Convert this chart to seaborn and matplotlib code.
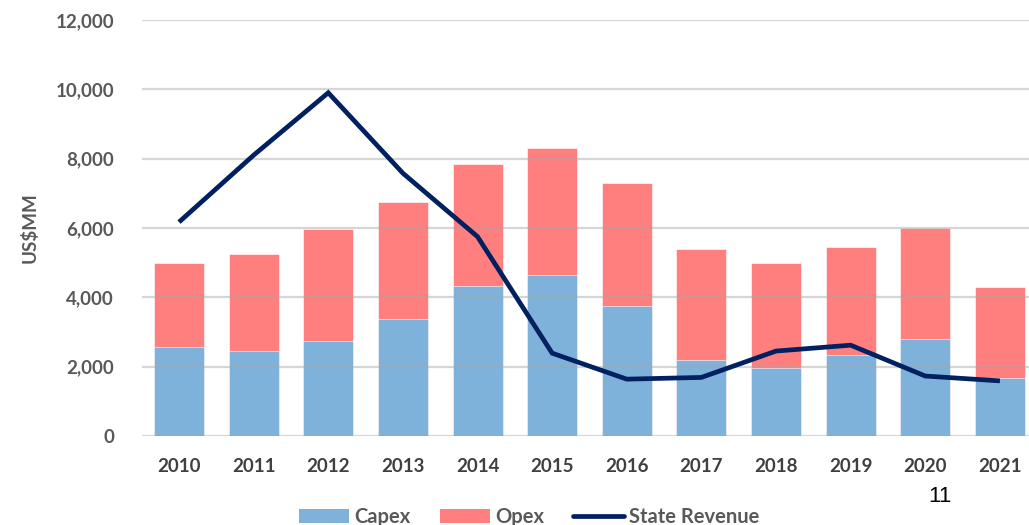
import numpy as np
import pandas as pd
import matplotlib
matplotlib.use("Agg")
import matplotlib.pyplot as plt
import seaborn as sns
from matplotlib.patches import Patch
from matplotlib.lines import Line2D

years = ["2010", "2011", "2012", "2013", "2014", "2015", "2016", "2017", "2018", "2019", "2020", "2021"]
capex = [2570, 2450, 2740, 3380, 4330, 4640, 3760, 2190, 1950, 2340, 2790, 1670]
opex = [2430, 2800, 3230, 3370, 3520, 3670, 3540, 3200, 3040, 3110, 3200, 2620]
state_revenue = [6170, 8100, 9900, 7580, 5750, 2390, 1640, 1690, 2450, 2620, 1730, 1590]
yticks = [0, 2000, 4000, 6000, 8000, 10000, 12000]

sns.set_theme(style="white")
plt.rcParams['font.family'] = ['Lato', 'DejaVu Sans']

df = pd.DataFrame({"year": years, "capex": capex, "opex": opex, "rev": state_revenue})
df["total"] = df["capex"] + df["opex"]

fig = plt.figure(figsize=(10.29, 5.25), dpi=100)
ax = fig.add_axes([0.1377, 0.1695, 0.8623, 0.7925])

blue = "#7FB2DA"
red = "#FF7F7F"
navy = "#002060"
fs = 13.5

sns.barplot(data=df, x="year", y="total", color=red, saturation=1, width=0.67,
            edgecolor="white", linewidth=0.4, ax=ax, zorder=1)
sns.barplot(data=df, x="year", y="capex", color=blue, saturation=1, width=0.67,
            edgecolor="white", linewidth=0.4, ax=ax, zorder=1)
sns.lineplot(x=np.arange(len(years)), y=df["rev"], color=navy, linewidth=3.4,
             ax=ax, zorder=4, solid_capstyle="butt", solid_joinstyle="miter")

ax.set_ylim(0, 12000)
ax.set_xlim(-0.5, 11.39)
ax.set_yticks(yticks)
ax.set_yticklabels([f"{v:,}" for v in yticks])
ax.yaxis.grid(True, color="#A6A6A6", alpha=0.45, linewidth=1.6, zorder=3)
ax.set_axisbelow(False)
for s in ax.spines.values():
    s.set_visible(False)
ax.tick_params(axis="y", length=0, pad=20, labelsize=fs, labelcolor="#595959")
ax.tick_params(axis="x", length=0, pad=16, labelsize=fs, labelcolor="#404040")
for t in ax.get_yticklabels() + ax.get_xticklabels():
    t.set_fontweight("bold")
ax.set_xlabel("")
ax.set_ylabel("US$MM", fontsize=fs, fontweight="bold", color="#595959", labelpad=12)

handles = [Patch(facecolor=blue, edgecolor="none"),
           Patch(facecolor=red, edgecolor="none"),
           Line2D([0], [0], color=navy, linewidth=3.4)]
leg = fig.legend(handles, ["Capex", "Opex", "State Revenue"], loc="center",
                 bbox_to_anchor=(529 / 1029, 1 - 517 / 525), ncol=3, frameon=False,
                 handlelength=2.5, handleheight=0.75, handletextpad=0.25, columnspacing=1.45,
                 prop={"size": 14.5, "weight": "bold"})
for t in leg.get_texts():
    t.set_color("#595959")

fig.text(940 / 1029, 1 - 497 / 525, "11", fontsize=16, color="black",
         ha="center", va="center", family=["Liberation Sans", "DejaVu Sans"])

fig.savefig("out.png", dpi=100)
